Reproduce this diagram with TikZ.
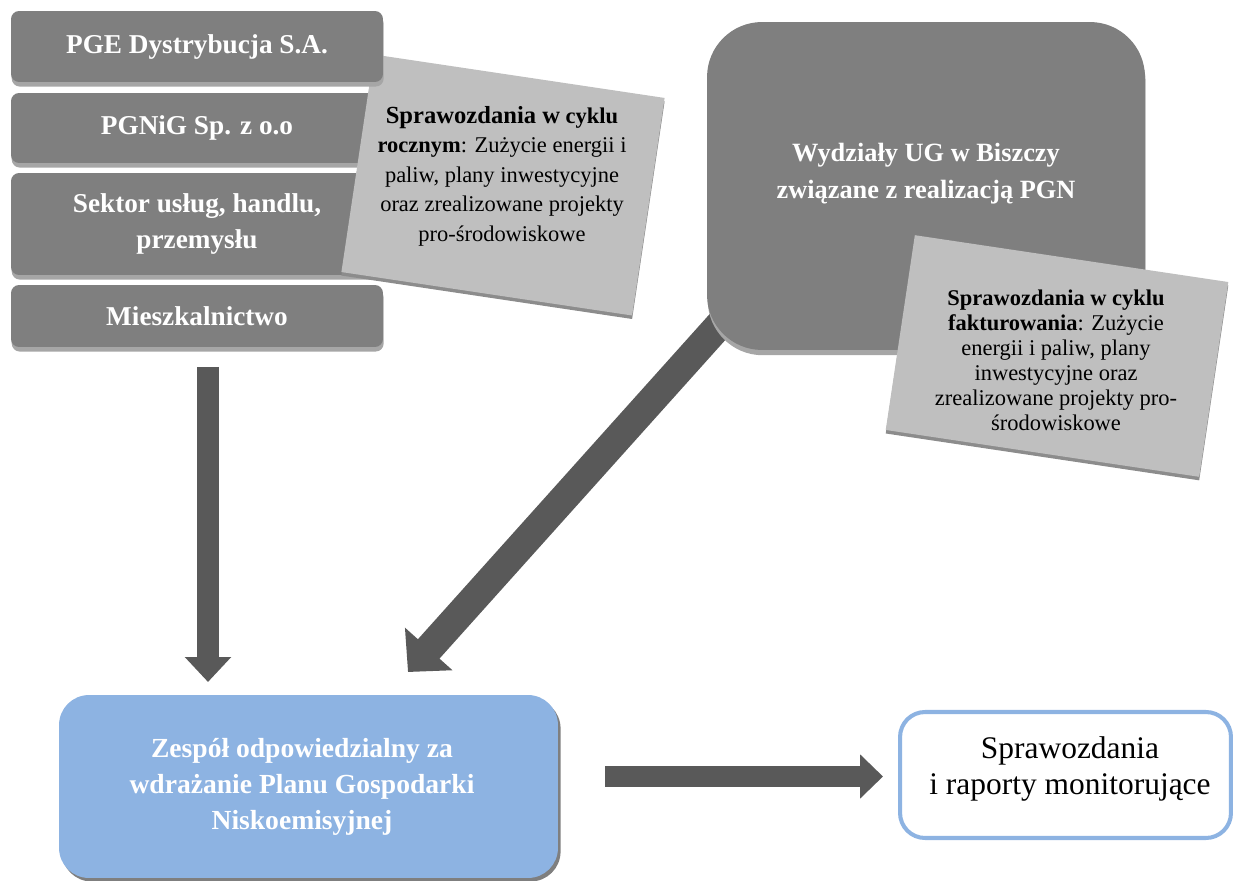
\documentclass[tikz,border=0pt]{standalone}
\usepackage{fontspec}
\setmainfont{Liberation Serif}
\usetikzlibrary{arrows.meta,shadows}

\definecolor{boxgray}{HTML}{7F7F7F}
\definecolor{notegray}{HTML}{BFBFBF}
\definecolor{notedark}{HTML}{8C8C8C}
\definecolor{shadegray}{HTML}{A6A6A6}
\definecolor{arrowgray}{HTML}{595959}
\definecolor{teamblue}{HTML}{8DB3E2}

\tikzset{
  srcbox/.style={rectangle, rounded corners=0.16cm, fill=boxgray, text=white,
    minimum width=7.44cm, align=center, font=\fontsize{15.5}{20}\selectfont\bfseries,
    drop shadow={shadow xshift=0.4pt, shadow yshift=-2.6pt, fill=shadegray, opacity=1}},
  notebox/.style={rectangle, fill=notegray,
    drop shadow={shadow xshift=0pt, shadow yshift=-2pt, fill=notedark, opacity=1}},
  notetext/.style={align=center, font=\fontsize{12.8}{14.2}\selectfont},
  blk/.style={draw=arrowgray, line width=0.44cm},
}

\begin{document}
\begin{tikzpicture}[x=0.02cm, y=-0.02cm]
    \useasboundingbox (0,0) rectangle (1233,881);

    \coordinate (d1) at (722,322);
    \coordinate (d2) at (408,672);
    \coordinate (v1) at (208,367);
    \coordinate (v2) at (208,682);
    \coordinate (h1) at (605,776.5);
    \coordinate (h2) at (883,776.5);

    % arrow from the departments, under their box
    \draw[blk, line width=0.58cm, -{Triangle[length=0.62cm, width=1.24cm]}] (d1)
    -- (d2);

    % data sources
    \node[srcbox, minimum height=1.4cm] (pgnig) at (197,128) {PGNiG Sp. z o.o};
    \node[srcbox, minimum height=2.04cm] (sektor) at (197,224) {Sektor usług, handlu,\\ przemysłu};
    \node[srcbox, minimum height=1.24cm] (miesz) at (197,316) {Mieszkalnictwo};

    \node[notebox, rotate=-8.5, minimum width=5.88cm, minimum height=4.4cm] (roczny) at (503,185) {};
    \node[notetext, font=\fontsize{12.8}{16.8}\selectfont] (rocznyt) at (502,176)
    {{\fontsize{14}{16.8}\selectfont\bfseries Sprawozdania w} \textbf{cyklu}\\
     \textbf{rocznym}: Zużycie energii i\\ paliw, plany inwestycyjne\\
     oraz zrealizowane projekty\\ pro-środowiskowe};

    \node[srcbox, minimum height=1.42cm] (pge) at (197,46.5) {PGE Dystrybucja S.A.};

    % departments
    \node[rectangle, rounded corners=1.1cm, fill=boxgray, minimum width=8.76cm, minimum height=6.56cm,
      drop shadow={shadow xshift=0.4pt, shadow yshift=-3pt, fill=shadegray, opacity=1}] (wydz) at (926,186) {};
    \node[text=white, align=center, font=\fontsize{15}{21}\selectfont\bfseries] (wydzt) at (926,174)
    {Wydziały UG w Biszczy\\ związane z realizacją PGN};

    \node[notebox, rotate=-8.5, minimum width=6.34cm, minimum height=3.94cm] (faktur) at (1057,356) {};
    \node[notetext] (fakturt) at (1056,360)
    {\textbf{Sprawozdania w cyklu}\\ \textbf{fakturowania}: Zużycie\\ energii i paliw, plany\\
     inwestycyjne oraz\\ zrealizowane projekty pro-\\ środowiskowe};

    \draw[blk, -{Triangle[length=0.5cm, width=0.9cm]}] (v1)
    -- (v2);

    \draw[blk, line width=0.42cm, -{Triangle[length=0.46cm, width=0.86cm]}] (h1)
    -- (h2);

    % team and reports
    \node[rectangle, rounded corners=0.6cm, fill=teamblue, minimum width=9.98cm, minimum height=3.66cm,
      drop shadow={shadow xshift=1.5pt, shadow yshift=-2pt, fill=boxgray, opacity=1}] (zespol) at (308.5,786.5) {};
    \node[text=white, align=center, font=\fontsize{15.7}{20.5}\selectfont\bfseries] (zespolt) at (302,787)
    {Zespół odpowiedzialny za\\ wdrażanie Planu Gospodarki\\ Niskoemisyjnej};

    \node[rectangle, rounded corners=0.5cm, draw=teamblue, line width=2.3pt, fill=white,
      minimum width=6.62cm, minimum height=2.52cm] (raport) at (1065.5,775) {};
    \node[align=center, font=\fontsize{17.9}{21}\selectfont] (raportt) at (1070,769)
    {Sprawozdania\\ i raporty monitorujące};

  \end{tikzpicture}
\end{document}
